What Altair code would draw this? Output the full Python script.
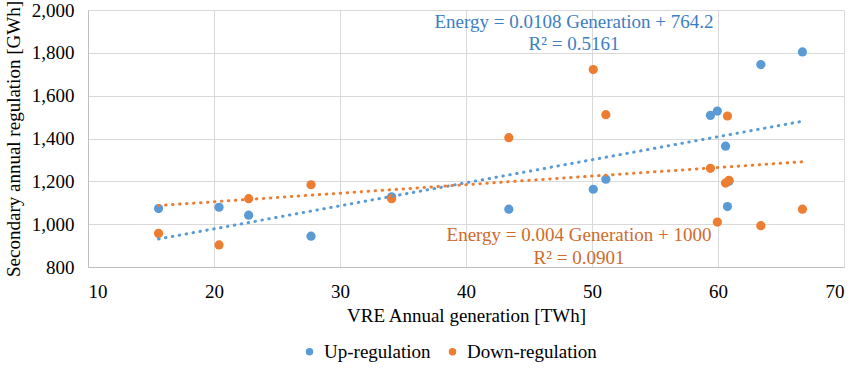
import altair as alt
import pandas as pd

# VRE annual generation per scenario [TWh]
generation_twh = [15.6, 20.4, 22.75, 27.7, 34.1, 43.4, 50.1, 51.1, 59.4, 59.95, 60.6, 60.75, 60.87, 63.4, 66.7]
# Secondary annual regulation per scenario [GWh]
up_regulation_gwh = [1073, 1079, 1042, 944, 1128, 1070, 1163, 1210, 1508, 1528, 1364, 1082, 1200, 1745, 1804]
down_regulation_gwh = [957, 903, 1119, 1184, 1119, 1404, 1722, 1511, 1261, 1010, 1192, 1505, 1205, 993, 1070]

series_names = ["Up-regulation", "Down-regulation"]
series_colors = ["#5B9BD5", "#ED7D31"]
label_colors = ["#3C7EC2", "#D06A2C"]

up_equation = ["Energy = 0.0108 Generation + 764.2", "R² = 0.5161"]
down_equation = ["Energy = 0.004 Generation + 1000", "R² = 0.0901"]

x_ticks = [10, 20, 30, 40, 50, 60, 70]
y_ticks = [800, 1000, 1200, 1400, 1600, 1800, 2000]

FONT = "'Liberation Serif', 'Times New Roman', 'DejaVu Serif', serif"
FS = 19
W, H = 756, 257

rows = []
for name, values in zip(series_names, [up_regulation_gwh, down_regulation_gwh]):
    for g, e in zip(generation_twh, values):
        rows.append({"generation": g, "energy": e, "series": name})
df = pd.DataFrame(rows)

x_enc = alt.X(
    "generation:Q",
    title="VRE Annual generation [TWh]",
    scale=alt.Scale(domain=[x_ticks[0], x_ticks[-1]], nice=False, zero=False),
    axis=alt.Axis(
        values=x_ticks, format="d", ticks=False, tickSize=0, labelPadding=15,
        titleX=W / 2, titleY=54, titleBaseline="alphabetic",
    ),
)
y_enc = alt.Y(
    "energy:Q",
    title="Secondary annual regulation [GWh]",
    scale=alt.Scale(domain=[y_ticks[0], y_ticks[-1]], nice=False, zero=False),
    axis=alt.Axis(
        values=y_ticks, format=",.0f", ticks=False, tickSize=0, labelPadding=14,
        titleX=-69, titleY=H / 2, titleBaseline="alphabetic",
    ),
)

base = alt.Chart(df)

points = base.mark_circle(size=85, opacity=1).encode(
    x=x_enc,
    y=y_enc,
    color=alt.Color(
        "series:N",
        sort=series_names,
        scale=alt.Scale(domain=series_names, range=series_colors),
        legend=alt.Legend(
            title=None, orient="none", legendX=212, legendY=332, direction="horizontal",
            symbolType="circle", symbolSize=36, labelOffset=5, columnPadding=12,
            gridAlign="each",
            labelFont=FONT, labelFontSize=FS, labelColor="#000000", padding=0,
        ),
    ),
    order=alt.Order("series_order:Q"),
).transform_calculate(series_order="datum.series == 'Up-regulation' ? 0 : 1")

trends = base.transform_regression(
    "generation", "energy", groupby=["series"], method="linear"
).mark_line(strokeWidth=3, strokeDash=[0.5, 6.5], strokeCap="round").encode(
    x="generation:Q",
    y="energy:Q",
    stroke=alt.Stroke(
        "series:N", scale=alt.Scale(domain=series_names, range=series_colors), legend=None
    ),
    detail="series:N",
)


def label(text, color, x, y):
    return alt.Chart(alt.Data(values=[{"t": text}])).mark_text(
        font=FONT, fontSize=FS, color=color, align="center", baseline="alphabetic"
    ).encode(text="t:N", x=alt.value(x), y=alt.value(y))


labels = [
    label(up_equation[0], label_colors[0], 486, 18),
    label(up_equation[1], label_colors[0], 486, 40),
    label(down_equation[0], label_colors[1], 491, 231),
    label(down_equation[1], label_colors[1], 491, 254),
]

chart = alt.layer(points, trends, *labels).properties(
    width=W,
    height=H,
    autosize="none",
    padding={"left": 88, "top": 10, "right": 12, "bottom": 102},
).configure_view(stroke=None).configure_axis(
    labelFont=FONT, labelFontSize=FS, labelColor="#000000",
    titleFont=FONT, titleFontSize=FS, titleFontWeight="normal", titleColor="#000000",
    gridColor="#d9d9d9", gridWidth=1, domainColor="#bfbfbf", domainWidth=1,
).configure_legend(labelFont=FONT)

chart.save("out.html", embed_options={"renderer": "svg", "actions": False})
